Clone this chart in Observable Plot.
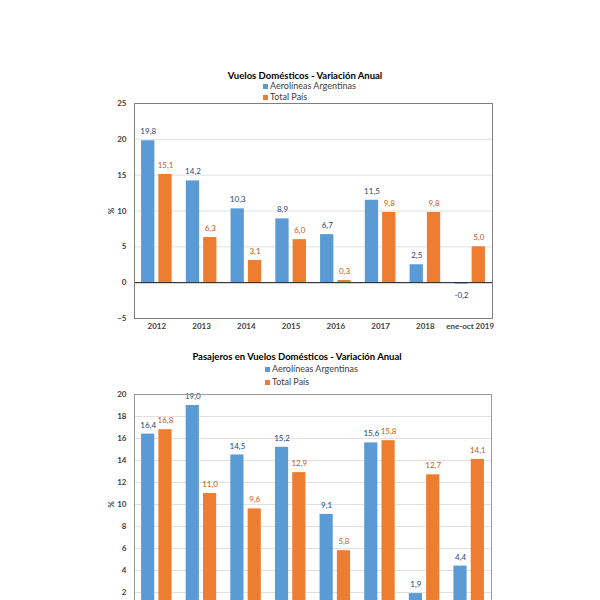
<!DOCTYPE html>
<html><head><meta charset="utf-8">
<script src="https://cdn.jsdelivr.net/npm/d3@7"></script>
<script src="https://cdn.jsdelivr.net/npm/@observablehq/plot@0.6"></script>
<style>
html,body{margin:0;padding:0;background:#fff;width:600px;height:600px;overflow:hidden;font-family:Lato,"Open Sans",sans-serif;}
#page{position:relative;width:600px;height:600px;overflow:hidden;}
.title{position:absolute;width:320px;text-align:center;font-weight:bold;font-size:9.5px;color:#000;line-height:10px;white-space:nowrap;}
.leg{position:absolute;font-size:9px;color:#404040;line-height:10px;white-space:nowrap;}
.leg .sw{display:inline-block;width:5px;height:5px;margin-right:2px;vertical-align:0px;}
.chart{position:absolute;left:0;}
</style></head>
<body>
<div id="page">
  <div class="title" style="left:145px;top:70.7px;">Vuelos Domésticos - Variación Anual</div>
  <div class="leg" style="left:263px;top:81px;"><span class="sw" style="background:#5B9BD5"></span>Aerolíneas Argentinas</div>
  <div class="leg" style="left:263px;top:92.3px;"><span class="sw" style="background:#ED7D31"></span>Total País</div>
  <div class="chart" id="c1" style="top:93px;"></div>

  <div class="title" style="left:137px;top:351.7px;">Pasajeros en Vuelos Domésticos - Variación Anual</div>
  <div class="leg" style="left:265px;top:364.3px;"><span class="sw" style="background:#5B9BD5"></span>Aerolíneas Argentinas</div>
  <div class="leg" style="left:265px;top:377.3px;"><span class="sw" style="background:#ED7D31"></span>Total País</div>
  <div class="chart" id="c2" style="top:384px;"></div>
</div>
<script>
const categories = ["2012","2013","2014","2015","2016","2017","2018","ene-oct 2019"];
const seriesNames = ["Aerolíneas Argentinas","Total País"];

// Vuelos Domésticos - Variación Anual (%)
const vuelosAerolineas = [19.8, 14.2, 10.3, 8.9, 6.7, 11.5, 2.5, -0.2];
const vuelosTotal      = [15.1, 6.3, 3.1, 6.0, 0.3, 9.8, 9.8, 5.0];
const vuelosTicks = [-5, 0, 5, 10, 15, 20, 25];

// Pasajeros en Vuelos Domésticos - Variación Anual (%)
const pasajerosAerolineas = [16.4, 19.0, 14.5, 15.2, 9.1, 15.6, 1.9, 4.4];
const pasajerosTotal      = [16.8, 11.0, 9.6, 12.9, 5.8, 15.8, 12.7, 14.1];
const pasajerosTicks = [0, 2, 4, 6, 8, 10, 12, 14, 16, 18, 20];

const fmt = v => v.toFixed(1).replace(".", ",");

function chart(aa, tp, ticks, frameHeight, marginRight, frameColor) {
  const A = categories.map((c, i) => ({cat: c, serie: seriesNames[0], v: aa[i]}));
  const T = categories.map((c, i) => ({cat: c, serie: seriesNames[1], v: tp[i]}));
  const labelMarks = (rows, dx, fill) => [
    Plot.text(rows.filter(d => d.v >= 0), {x: "cat", y: "v", text: d => fmt(d.v), dx, dy: -9, fill, fontSize: 8}),
    Plot.text(rows.filter(d => d.v < 0), {x: "cat", y: "v", text: d => fmt(d.v), dx, dy: 11, fill, fontSize: 8})
  ];
  return Plot.plot({
    width: 600,
    height: 10 + frameHeight + 25,
    marginLeft: 134,
    marginRight,
    marginTop: 10,
    marginBottom: 25,
    style: {fontFamily: "Lato, 'Open Sans', sans-serif", fontSize: "8px", color: "#404040", background: "transparent"},
    x: {domain: categories, padding: 0, round: false, axis: null},
    y: {domain: [ticks[0], ticks[ticks.length - 1]], axis: null},
    marks: [
      Plot.gridY(ticks, {stroke: "#d9d9d9", strokeOpacity: 1, strokeWidth: 0.8}),
      Plot.barY(A, {x: "cat", y: "v", fill: "#5B9BD5", insetLeft: 7.07, insetRight: 24.38}),
      Plot.barY(T, {x: "cat", y: "v", fill: "#ED7D31", insetLeft: 24.38, insetRight: 7.07}),
      Plot.ruleY([0], {stroke: "#1a1a1a", strokeWidth: 1}),
      ...labelMarks(A, -8.65, "#264478"),
      ...labelMarks(T, 8.65, "#C55A11"),
      Plot.axisY(ticks, {tickSize: 0, tickPadding: 8, label: "%", labelAnchor: "center", labelOffset: 26, labelArrow: "none", fontWeight: "bold", fill: "#404040"}),
      Plot.axisX({tickSize: 0, tickPadding: 5, label: null, fontWeight: "bold", fill: "#404040"}),
      Plot.frame({stroke: frameColor, strokeWidth: 1})
    ]
  });
}

document.getElementById("c1").append(chart(vuelosAerolineas, vuelosTotal, vuelosTicks, 215, 108, "#7f7f7f"));
document.getElementById("c2").append(chart(pasajerosAerolineas, pasajerosTotal, pasajerosTicks, 220, 109, "#9a9a9a"));
</script>
</body></html>
